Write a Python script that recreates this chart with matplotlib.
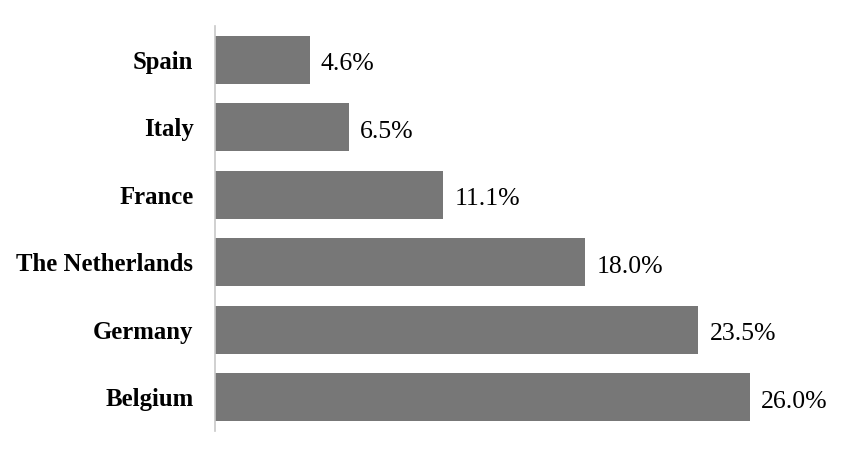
import matplotlib.pyplot as plt

# Share by country (%), top to bottom as in the chart
countries = ["Spain", "Italy", "France", "The Netherlands", "Germany", "Belgium"]
shares = [4.6, 6.5, 11.1, 18.0, 23.5, 26.0]

plt.rcParams['font.family'] = ['Liberation Serif', 'DejaVu Serif']

fig = plt.figure(figsize=(8.57, 4.55), dpi=100)
ax = fig.add_axes([0.2509, 0.0527, 0.72, 0.890])

y = list(range(len(countries)))
ax.barh(y, shares, height=0.71, color='#777777', zorder=2)
for yi, v in zip(y, shares):
    ax.text(v + 0.55, yi + 0.03, f"{v:.1f}%", va='center_baseline', ha='left',
            fontsize=18.5)

ax.set_ylim(len(countries) - 0.5, -0.5)
ax.set_xlim(0, 30)
ax.set_yticks(y)
ax.set_yticklabels(countries, fontsize=17.8, fontweight='bold')
ax.tick_params(axis='y', length=0, pad=15.5)
ax.set_xticks([])
for s in ['top', 'right', 'bottom']:
    ax.spines[s].set_visible(False)
ax.spines['left'].set_color('#c8c8c8')
ax.spines['left'].set_linewidth(1.2)

fig.savefig('out.png', dpi=100, facecolor='white')
